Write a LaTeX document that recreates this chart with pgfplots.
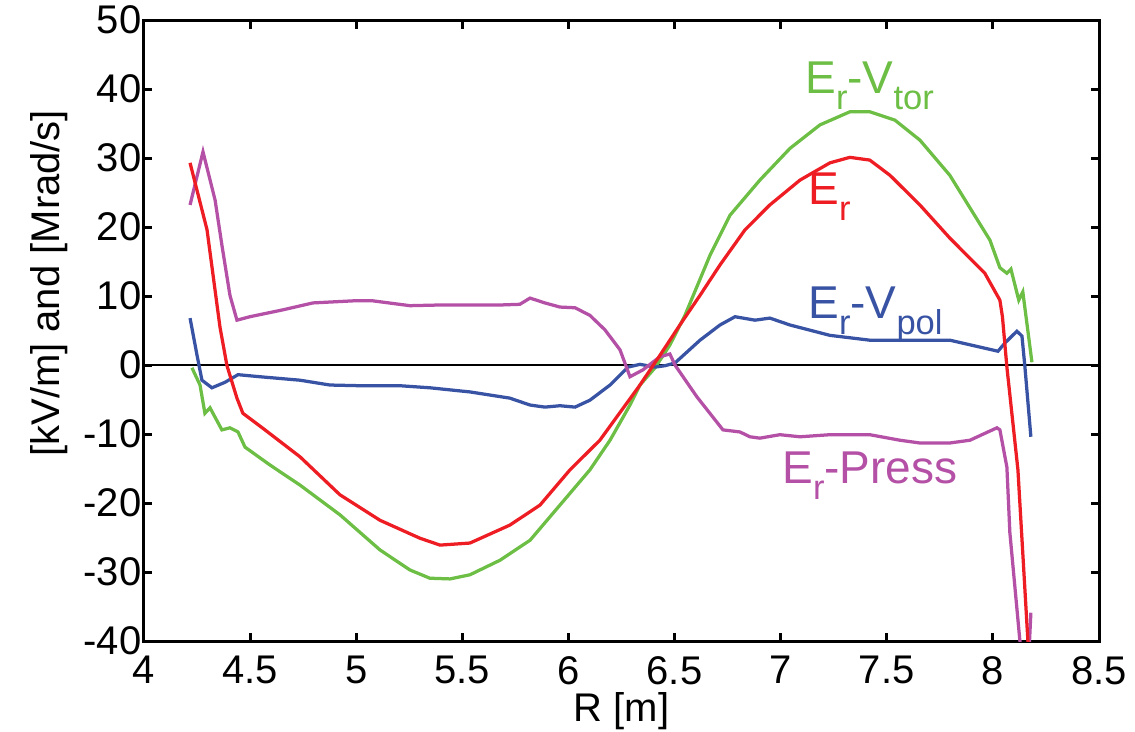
\documentclass[border=0pt]{standalone}
\usepackage{fontspec}
\setmainfont{Liberation Sans}
\usepackage{pgfplots}
\pgfplotsset{compat=1.18}
\definecolor{cred}{RGB}{238,29,36}
\definecolor{cgreen}{RGB}{108,190,69}
\definecolor{cblue}{RGB}{56,83,164}
\definecolor{cmag}{RGB}{180,80,165}
\newcommand\sub[1]{\raisebox{-6.4pt}{\fontsize{13.8}{16}\selectfont #1}}
\begin{document}
\begin{tikzpicture}
\useasboundingbox (-57.6pt,-36pt) rectangle (396.4pt,256.4pt);
\begin{axis}[
  scale only axis, width=382pt, height=248.4pt,
  anchor=south west, at={(0,0)},
  xmin=4, xmax=8.5, ymin=-40, ymax=50,
  xtick={4,4.5,5,5.5,6,6.5,7,7.5,8,8.5},
  ytick={-40,-30,-20,-10,0,10,20,30,40,50},
  tick align=inside, major tick length=3.4pt,
  axis line style={line width=1.2pt},
  every tick/.style={black, line width=1.2pt},
  /pgf/number format/assume math mode=true,
  tick label style={font=\fontsize{16}{19}\selectfont},
  yticklabel style={xshift=2.5pt},
  xticklabel style={yshift=-2.5pt},
  label style={font=\fontsize{16}{19}\selectfont},
  xlabel={R [m]}, ylabel={[kV/m] and [Mrad/s]},
  xlabel style={at={(axis description cs:0.5,-0.113)}, anchor=center},
  ylabel style={at={(axis description cs:-0.0995,0.576)}, anchor=center},
  every axis plot/.append style={line width=1.3pt},
]
\addplot[black, line width=0.5pt] coordinates {(4,0) (8.5,0)};
% E_r - V_tor (green)
\addplot[cgreen] coordinates {
(4.226,-0.4)(4.264,-2.9)(4.287,-7.0)(4.311,-6.2)(4.367,-9.4)(4.405,-9.1)(4.443,-9.7)(4.476,-11.9)
(4.594,-14.5)(4.735,-17.4)(4.923,-21.7)(5.112,-26.8)(5.253,-29.7)(5.347,-30.9)(5.442,-31.0)
(5.536,-30.4)(5.677,-28.3)(5.819,-25.4)(5.960,-20.3)(6.101,-15.2)(6.196,-10.9)(6.290,-5.8)
(6.337,-2.9)(6.408,-0.4)(6.478,2.9)(6.549,7.2)(6.667,15.9)(6.761,21.7)(6.902,26.8)(7.044,31.4)
(7.185,34.8)(7.326,36.7)(7.420,36.7)(7.538,35.5)(7.656,32.6)(7.797,27.5)(7.986,18.1)(8.033,14.1)
(8.066,13.3)(8.085,13.9)(8.122,9.4)(8.141,10.6)(8.184,0.4)};
% E_r - V_pol (blue)
\addplot[cblue] coordinates {
(4.217,6.8)(4.250,1.4)(4.273,-2.2)(4.320,-3.3)(4.382,-2.5)(4.443,-1.4)(4.547,-1.7)(4.735,-2.2)
(4.876,-2.9)(5.018,-3.0)(5.206,-3.0)(5.347,-3.3)(5.536,-3.9)(5.724,-4.8)(5.819,-5.8)(5.889,-6.1)
(5.960,-5.9)(6.031,-6.1)(6.101,-5.1)(6.196,-2.9)(6.281,-0.3)(6.337,0.1)(6.408,-0.3)(6.455,-0.1)
(6.502,0.3)(6.620,3.6)(6.714,5.8)(6.785,7.0)(6.879,6.5)(6.949,6.8)(7.044,5.8)(7.232,4.3)
(7.420,3.6)(7.656,3.6)(7.797,3.6)(8.024,2.0)(8.057,3.2)(8.113,4.9)(8.137,4.2)(8.151,-0.3)(8.179,-10.4)};
% E_r - Press (magenta)
\addplot[cmag] coordinates {
(4.217,23.2)(4.278,30.9)(4.335,23.9)(4.367,17.4)(4.405,10.1)(4.438,6.5)(4.499,7.0)(4.655,8.0)
(4.796,9.0)(4.985,9.3)(5.079,9.3)(5.253,8.6)(5.395,8.7)(5.677,8.7)(5.771,8.8)(5.819,9.7)
(5.889,9.0)(5.960,8.4)(6.031,8.3)(6.101,7.2)(6.172,5.1)(6.243,2.2)(6.290,-1.7)(6.351,-0.7)
(6.431,1.2)(6.478,1.6)(6.502,0.0)(6.605,-4.6)(6.728,-9.4)(6.808,-9.7)(6.855,-10.4)(6.902,-10.6)
(6.996,-10.1)(7.091,-10.4)(7.232,-10.1)(7.420,-10.1)(7.562,-10.9)(7.656,-11.3)(7.797,-11.3)
(7.892,-10.9)(8.019,-9.1)(8.033,-9.4)(8.066,-14.8)(8.080,-24.3)(8.127,-39.9)(8.14,-43)(8.168,-43)(8.179,-35.9)};
% E_r (red)
\addplot[cred] coordinates {
(4.217,29.3)(4.297,19.6)(4.358,5.5)(4.391,-0.1)(4.438,-4.8)(4.466,-7.0)(4.570,-9.4)(4.735,-13.3)
(4.923,-18.8)(5.112,-22.5)(5.300,-25.1)(5.395,-26.1)(5.536,-25.8)(5.724,-23.2)(5.866,-20.3)
(6.007,-15.2)(6.148,-10.9)(6.337,-2.9)(6.431,1.4)(6.525,5.8)(6.620,10.1)(6.714,14.5)(6.832,19.6)
(6.949,23.2)(7.091,26.8)(7.232,29.3)(7.326,30.1)(7.420,29.7)(7.515,27.5)(7.656,23.2)(7.797,18.4)
(7.962,13.3)(8.033,9.4)(8.045,7.0)(8.066,-0.3)(8.118,-15.2)(8.165,-40)(8.17,-42)};
\node[cgreen, anchor=base west, inner sep=0pt, font=\fontsize{18.4}{22}\selectfont] at (axis cs:7.114,39.4) {E\sub{r}-V\sub{tor}};
\node[cred, anchor=base west, inner sep=0pt, font=\fontsize{18.4}{22}\selectfont] at (axis cs:7.128,23.2) {E\sub{r}};
\node[cblue, anchor=base west, inner sep=0pt, font=\fontsize{18.4}{22}\selectfont] at (axis cs:7.128,6.8) {E\sub{r}-V\sub{pol}};
\node[cmag, anchor=base west, inner sep=0pt, font=\fontsize{18.4}{22}\selectfont] at (axis cs:7.006,-17.1) {E\sub{r}-Press};
\end{axis}
\end{tikzpicture}
\end{document}
